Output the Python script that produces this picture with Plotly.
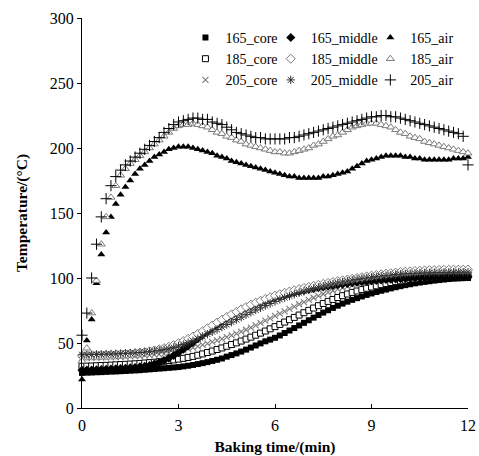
import plotly.graph_objects as go

# sample times (min), every 0.15 min
time = [round(0.15 * i, 2) for i in range(81)]

core_165 = [27.0, 27.2, 27.3, 27.5, 27.6, 27.8, 28.0, 28.1, 28.3, 28.5, 28.7, 28.9, 29.1, 29.4, 29.7, 30.0,
            30.3, 30.6, 30.9, 31.2, 31.5, 32.0, 32.5, 33.1, 33.8, 34.5, 35.3, 36.2, 37.1, 38.1, 39.5, 40.7,
            42.0, 43.4, 44.9, 46.5, 48.1, 49.7, 51.3, 52.6, 54.0, 55.8, 57.7, 59.6, 61.5, 63.5, 65.5, 67.5,
            69.5, 71.5, 73.4, 75.2, 77.0, 78.7, 80.3, 81.8, 83.2, 84.5, 85.8, 87.0, 88.1, 89.2, 90.2, 91.1,
            92.0, 92.9, 93.7, 94.5, 95.2, 95.9, 96.5, 97.0, 97.5, 98.0, 98.4, 98.8, 99.2, 99.5, 99.7, 99.9, 100.0]
core_185 = [32.0, 32.2, 32.3, 32.5, 32.7, 32.8, 33.0, 33.2, 33.4, 33.6, 33.8, 34.0, 34.3, 34.6, 34.9, 35.2,
            35.6, 36.0, 36.5, 37.0, 37.6, 38.2, 38.9, 39.7, 40.6, 41.6, 42.7, 43.8, 45.0, 46.2, 47.5, 48.8,
            50.1, 51.5, 53.0, 54.5, 56.0, 57.6, 59.2, 60.9, 62.6, 64.3, 66.1, 67.9, 69.7, 71.5, 73.3, 75.1,
            76.9, 78.7, 80.4, 82.0, 83.5, 85.0, 86.4, 87.7, 88.9, 90.0, 91.1, 92.1, 93.1, 94.0, 94.9, 95.7,
            96.5, 97.2, 97.8, 98.4, 98.9, 99.3, 99.7, 100.0, 100.3, 100.6, 100.8, 101.0, 101.1, 101.2, 101.3, 101.4, 101.5]
core_205 = [38.5, 38.6, 38.7, 38.8, 38.9, 39.0, 39.1, 39.2, 39.3, 39.5, 39.7, 39.9, 40.1, 40.4, 40.7, 41.0,
            41.3, 41.7, 42.3, 43.0, 43.8, 44.6, 45.5, 46.4, 47.4, 48.5, 49.6, 50.8, 52.0, 53.2, 54.5, 55.8,
            57.2, 58.7, 60.2, 61.9, 63.6, 65.4, 67.2, 69.0, 70.8, 72.6, 74.4, 76.2, 78.0, 79.8, 81.5, 83.2,
            84.8, 86.3, 87.7, 89.0, 90.2, 91.4, 92.5, 93.5, 94.4, 95.3, 96.1, 96.8, 97.5, 98.1, 98.7, 99.2,
            99.7, 100.1, 100.5, 100.8, 101.1, 101.4, 101.6, 101.8, 102.0, 102.1, 102.2, 102.3, 102.4, 102.4, 102.5, 102.5, 102.5]
middle_165 = [29.0, 29.1, 29.2, 29.4, 29.5, 29.7, 29.9, 30.1, 30.3, 30.6, 30.9, 31.2, 31.6, 32.0, 32.6, 33.8,
              35.0, 36.5, 38.3, 40.4, 42.7, 45.2, 47.8, 50.5, 53.3, 56.1, 58.9, 61.6, 64.2, 66.7, 69.0, 71.2,
              73.2, 75.1, 76.9, 78.5, 80.0, 81.4, 82.7, 83.9, 85.0, 86.0, 87.0, 87.9, 88.8, 89.6, 90.4, 91.1,
              91.8, 92.5, 93.1, 93.7, 94.3, 94.8, 95.3, 95.8, 96.3, 96.7, 97.1, 97.5, 97.9, 98.2, 98.5, 98.8,
              99.1, 99.3, 99.5, 99.7, 99.9, 100.1, 100.2, 100.3, 100.4, 100.5, 100.6, 100.7, 100.8, 100.8, 100.9, 100.9, 101.0]
middle_185 = [40.0, 40.1, 40.2, 40.3, 40.4, 40.6, 40.8, 41.0, 41.2, 41.5, 41.8, 42.1, 42.5, 43.0, 43.6, 44.3,
              45.1, 46.0, 47.1, 48.4, 49.9, 51.5, 53.2, 55.0, 57.0, 59.1, 61.3, 63.5, 65.7, 67.9, 70.0, 72.0,
              74.0, 75.9, 77.7, 79.4, 81.0, 82.5, 83.9, 85.2, 86.4, 87.5, 88.6, 89.6, 90.5, 91.4, 92.3, 93.1,
              93.9, 94.7, 95.5, 96.2, 96.9, 97.6, 98.2, 98.8, 99.4, 100.0, 100.6, 101.2, 101.8, 102.3, 102.8, 103.3,
              103.7, 104.1, 104.5, 104.8, 105.1, 105.4, 105.6, 105.8, 106.0, 106.1, 106.2, 106.3, 106.3, 106.4, 106.4, 106.4, 106.4]
middle_205 = [41.0, 41.0, 41.1, 41.2, 41.3, 41.4, 41.5, 41.6, 41.8, 42.0, 42.2, 42.4, 42.7, 43.0, 43.4, 43.8,
              44.3, 44.9, 45.6, 46.5, 47.6, 48.8, 50.2, 51.7, 53.3, 55.0, 56.8, 58.6, 60.4, 62.3, 64.2, 66.1,
              68.0, 69.9, 71.8, 73.6, 75.4, 77.1, 78.8, 80.4, 82.0, 83.5, 84.9, 86.2, 87.5, 88.7, 89.8, 90.9,
              91.9, 92.8, 93.7, 94.6, 95.4, 96.2, 96.9, 97.6, 98.3, 98.9, 99.5, 100.0, 100.5, 101.0, 101.4, 101.8,
              102.2, 102.6, 102.9, 103.2, 103.4, 103.6, 103.8, 103.9, 104.0, 104.1, 104.2, 104.3, 104.3, 104.4, 104.4, 104.5, 104.5]
air_165 = [22, 52, 68, 96, 118, 135, 147, 157, 164, 170, 175, 180, 184, 187, 190, 193,
           195, 197, 199, 200, 201, 201, 201, 200, 199, 198, 197, 196, 194, 193, 192, 190,
           189, 188, 187, 186, 185, 184, 183, 182, 181, 180, 179, 178, 178, 177, 177, 177,
           177, 177, 178, 178, 179, 180, 181, 182, 184, 186, 188, 190, 191, 192, 193, 194,
           194, 194, 194, 193, 193, 192, 192, 191, 191, 191, 191, 191, 191, 192, 192, 192, 193]
air_185 = [36, 46, 73, 98, 126, 147, 162, 171, 179, 184, 188, 191, 194, 197, 200, 203,
           206, 209, 212, 215, 217, 218, 218, 219, 218, 217, 216, 214, 212, 211, 209, 208,
           206, 205, 203, 202, 201, 200, 199, 198, 197, 197, 196, 196, 197, 198, 199, 200,
           202, 203, 205, 207, 209, 210, 212, 214, 216, 217, 218, 219, 219, 219, 218, 217,
           216, 214, 212, 211, 209, 208, 207, 205, 204, 203, 202, 201, 200, 199, 198, 197, 196]
air_205 = [56, 73, 100, 126, 147, 161, 171, 178, 183, 187, 190, 193, 196, 199, 202, 205,
           208, 212, 215, 218, 220, 221, 222, 223, 223, 222, 222, 220, 219, 218, 216, 214,
           212, 211, 210, 209, 208, 208, 207, 207, 207, 207, 207, 208, 208, 209, 210, 211,
           212, 213, 214, 215, 216, 217, 218, 219, 220, 221, 222, 223, 224, 224, 225, 225,
           224, 224, 223, 222, 221, 220, 219, 218, 217, 216, 215, 214, 213, 212, 211, 209, 187]

FONT = "Liberation Serif"
GREY = "#7a7a7a"

series = [
    ("165_core", core_165, dict(symbol="square", size=6, color="black"), "legend"),
    ("185_core", core_185, dict(symbol="square", size=6, color="white", line=dict(color="black", width=1)), "legend"),
    ("205_core", core_205, dict(symbol="x-thin-open", size=6, color=GREY, line=dict(color=GREY, width=1.1)), "legend"),
    ("165_middle", middle_165, dict(symbol="diamond", size=7, color="black"), "legend2"),
    ("185_middle", middle_185, dict(symbol="diamond", size=7, color="white", line=dict(color=GREY, width=1)), "legend2"),
    ("205_middle", middle_205, dict(symbol="asterisk-open", size=7, color="#333333", line=dict(color="#333333", width=1)), "legend2"),
    ("165_air", air_165, dict(symbol="triangle-up", size=7, color="black"), "legend3"),
    ("185_air", air_185, dict(symbol="triangle-up", size=7, color="white", line=dict(color=GREY, width=1)), "legend3"),
    ("205_air", air_205, dict(symbol="cross-thin-open", size=8, color="black", line=dict(color="black", width=1)), "legend3"),
]

fig = go.Figure()
for name, vals, mk, lg in series:
    fig.add_trace(go.Scatter(x=time, y=vals, mode="markers", name=name, marker=mk,
                             legend=lg, cliponaxis=False))

leg_common = dict(font=dict(family=FONT, size=14, color="black"), bgcolor="rgba(0,0,0,0)",
                  xanchor="left", yanchor="top", y=0.99, tracegroupgap=0, itemwidth=30)

fig.update_layout(
    width=479, height=456,
    margin=dict(l=82, r=11, t=18, b=48, pad=0),
    paper_bgcolor="white", plot_bgcolor="white",
    font=dict(family=FONT, size=15, color="black"),
    legend=dict(x=0.268, **leg_common),
    legend2=dict(x=0.489, **leg_common),
    legend3=dict(x=0.747, **leg_common),
    xaxis=dict(range=[0, 12], dtick=3, ticks="inside", ticklen=4, tickcolor="black",
               showline=True, linecolor="black", linewidth=1, showgrid=False, zeroline=False,
               automargin=False,
               tickfont=dict(family=FONT, size=16, color="black"), ticklabelstandoff=3,
               title=dict(text="<b>Baking time/(min)</b>", font=dict(family=FONT, size=15.5), standoff=10)),
    yaxis=dict(range=[0, 300], dtick=50, ticks="outside", ticklen=4, tickcolor="black",
               showline=True, linecolor="black", linewidth=1, showgrid=False, zeroline=False,
               automargin=False,
               tickfont=dict(family=FONT, size=16, color="black"),
               title=dict(text="<b>Temperature/(°C)</b>", font=dict(family=FONT, size=15.5), standoff=18)),
)

fig.write_html("out.html")
